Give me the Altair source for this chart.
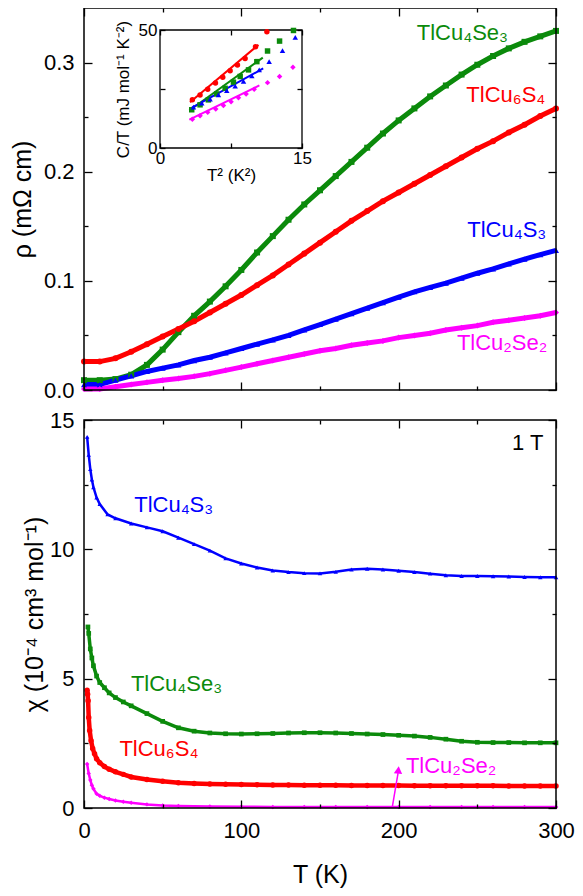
import altair as alt
import pandas as pd

# ---------------- shared series info ----------------
SERIES = ["TlCu4Se3", "TlCu6S4", "TlCu4S3", "TlCu2Se2"]
COLORS = ["#0b8a0b", "#ff0000", "#0000ff", "#ff00ff"]
SHAPES = ["square", "circle", "triangle-up", "diamond"]

# ---------------- top panel: resistivity (mOhm cm) ----------------
T_RHO = [0, 10, 20, 30, 40, 50, 60, 70, 80, 90, 100, 110, 120, 130, 140, 150,
         160, 170, 180, 190, 200, 210, 220, 230, 240, 250, 260, 270, 280, 290, 300]
RHO_TLCU4SE3 = [0.009, 0.009, 0.010, 0.014, 0.023, 0.037, 0.053, 0.068, 0.081, 0.095,
                0.110, 0.126, 0.141, 0.156, 0.170, 0.183, 0.196, 0.209, 0.222, 0.235,
                0.247, 0.258, 0.269, 0.279, 0.289, 0.298, 0.306, 0.313, 0.319, 0.324, 0.329]
RHO_TLCU6S4 = [0.026, 0.026, 0.029, 0.035, 0.042, 0.049, 0.056, 0.063, 0.071, 0.079,
               0.087, 0.096, 0.105, 0.115, 0.125, 0.135, 0.145, 0.155, 0.164, 0.173,
               0.181, 0.189, 0.197, 0.205, 0.213, 0.221, 0.228, 0.236, 0.243, 0.251, 0.258]
RHO_TLCU4S3 = [0.005, 0.005, 0.009, 0.013, 0.017, 0.020, 0.023, 0.027, 0.030, 0.034,
               0.038, 0.042, 0.046, 0.050, 0.055, 0.060, 0.065, 0.070, 0.075, 0.080,
               0.085, 0.090, 0.094, 0.098, 0.1025, 0.107, 0.111, 0.1155, 0.120, 0.124, 0.128]
RHO_TLCU2SE2 = [0.001, 0.001, 0.003, 0.005, 0.007, 0.009, 0.0105, 0.0125, 0.015, 0.018,
                0.021, 0.024, 0.027, 0.030, 0.033, 0.036, 0.038, 0.041, 0.043, 0.045,
                0.048, 0.050, 0.052, 0.055, 0.057, 0.059, 0.062, 0.064, 0.066, 0.068, 0.071]

# ---------------- inset: C/T vs T^2 ----------------
T2_TLCU4SE3 = [3.35, 4.23, 5.11, 6.0, 6.88, 7.76, 8.47, 9.35, 10.23, 11.36, 12.63, 14.1]
CT_TLCU4SE3 = [16.2, 18.3, 20.4, 22.9, 25.3, 27.9, 30.3, 33.1, 36.6, 41.1, 45.3, 49.8]
T2_TLCU6S4 = [3.42, 4.23, 5.04, 5.86, 6.63, 7.41, 8.18, 8.99, 10.09, 11.29]
CT_TLCU6S4 = [20.4, 22.5, 24.9, 27.5, 30.0, 32.7, 35.2, 37.9, 42.95, 49.3]
T2_TLCU4S3 = [3.53, 4.41, 5.29, 6.17, 7.05, 7.94, 8.82, 9.70, 10.48, 11.53, 12.94, 14.29]
CT_TLCU4S3 = [17.3, 19.0, 20.7, 22.5, 24.3, 26.2, 28.2, 30.6, 33.1, 36.6, 41.3, 46.9]
T2_TLCU2SE2 = [3.42, 4.23, 5.04, 5.89, 6.70, 7.51, 8.29, 9.10, 9.95, 11.36, 12.63, 14.04]
CT_TLCU2SE2 = [12.2, 13.65, 15.1, 16.5, 18.0, 19.6, 21.3, 22.9, 24.9, 27.7, 30.3, 34.2]
# linear fits: [start, end]
FIT_T2 = {"TlCu4Se3": [3.10, 10.86], "TlCu6S4": [3.17, 10.4],
          "TlCu4S3": [3.10, 10.9], "TlCu2Se2": [3.10, 10.5]}
FIT_CT = {"TlCu4Se3": [15.9, 38.3], "TlCu6S4": [19.4, 43.7],
          "TlCu4S3": [16.5, 33.7], "TlCu2Se2": [12.0, 26.5]}

# ---------------- bottom panel: susceptibility (1e-4 cm3/mol) ----------------
T_CHI_TLCU4S3 = [2, 3, 4, 5, 6, 8, 10, 15, 20, 30, 40, 50, 60, 70, 80, 90, 100, 110,
                 120, 130, 140, 150, 160, 170, 180, 190, 200, 210, 220, 230, 240, 250,
                 260, 270, 280, 290, 300]
CHI_TLCU4S3 = [14.35, 13.65, 13.1, 12.7, 12.4, 12.0, 11.75, 11.35, 11.2, 11.0, 10.85,
               10.7, 10.45, 10.2, 9.95, 9.65, 9.45, 9.3, 9.18, 9.12, 9.08, 9.07, 9.13,
               9.22, 9.25, 9.22, 9.17, 9.12, 9.06, 9.0, 8.97, 8.97, 8.96, 8.95, 8.93,
               8.92, 8.92]
T_CHI_TLCU4SE3 = [2.5, 3, 4, 5, 6, 8, 10, 13, 16, 20, 25, 30, 40, 50, 60, 70, 80, 90,
                  100, 110, 120, 130, 140, 150, 160, 170, 180, 190, 200, 210, 220, 230,
                  240, 250, 260, 270, 280, 290, 300]
CHI_TLCU4SE3 = [7.0, 6.75, 6.15, 5.8, 5.5, 5.1, 4.85, 4.65, 4.45, 4.27, 4.1, 3.95, 3.65,
                3.35, 3.1, 2.97, 2.9, 2.87, 2.86, 2.87, 2.88, 2.9, 2.91, 2.91, 2.9, 2.88,
                2.86, 2.84, 2.81, 2.78, 2.73, 2.66, 2.58, 2.54, 2.53, 2.53, 2.52, 2.52, 2.52]
T_CHI_TLCU6S4 = [2, 2.3, 2.6, 3, 3.6, 4.5, 5.5, 6.7, 8, 10, 13, 16, 20, 25, 30, 40, 50,
                 60, 70, 80, 90, 100, 110, 120, 130, 140, 150, 160, 170, 180, 190, 200,
                 210, 220, 230, 240, 250, 260, 270, 280, 290, 300]
CHI_TLCU6S4 = [4.55, 4.4, 4.15, 3.5, 3.0, 2.6, 2.3, 2.1, 1.9, 1.75, 1.6, 1.5, 1.4, 1.3,
               1.2, 1.1, 1.03, 0.98, 0.95, 0.93, 0.92, 0.91, 0.9, 0.89, 0.89, 0.88, 0.88,
               0.88, 0.87, 0.87, 0.87, 0.87, 0.86, 0.86, 0.86, 0.86, 0.86, 0.86, 0.85,
               0.85, 0.85, 0.85]
T_CHI_TLCU2SE2 = [2, 3, 4, 5, 6, 8, 10, 13, 16, 20, 25, 30, 40, 50, 60, 80, 100, 120,
                  140, 160, 180, 200, 220, 240, 260, 280, 300]
CHI_TLCU2SE2 = [1.7, 1.33, 1.08, 0.88, 0.74, 0.55, 0.47, 0.4, 0.35, 0.29, 0.24, 0.2,
                0.14, 0.1, 0.08, 0.06, 0.05, 0.04, 0.04, 0.04, 0.04, 0.04, 0.04, 0.04,
                0.04, 0.04, 0.04]

# ---------------- axis domains / ticks ----------------
X_DOM = [0, 300]
Y_TOP = [0, 0.35]
Y_BOT = [0, 15]
INSET_X_DOMAIN = [0, 15]
INSET_Y_DOMAIN = [0, 50]
X_MAJOR, X_MINOR = [0, 100, 200, 300], [50, 150, 250]
YT_MAJOR, YT_MINOR = [0, 0.1, 0.2, 0.3], [0.05, 0.15, 0.25]
YB_MAJOR, YB_MINOR = [0, 5, 10, 15], [2.5, 7.5, 12.5]

# ---------------- annotations ----------------
TOP_LABEL_TEXT = ["TlCu₄Se₃", "TlCu₆S₄", "TlCu₄S₃", "TlCu₂Se₂"]
TOP_LABEL_T = [211.5, 243, 243.6, 237]
TOP_LABEL_V = [0.327, 0.270, 0.147, 0.043]
BOT_LABEL_TEXT = ["TlCu₄S₃", "TlCu₄Se₃", "TlCu₆S₄", "TlCu₂Se₂", "1 T"]
BOT_LABEL_T = [31.9, 29.8, 22.5, 204.6, 272]
BOT_LABEL_V = [11.71, 4.79, 2.29, 1.62, 14.1]
BOT_LABEL_COLOR = ["#0000ff", "#0b8a0b", "#ff0000", "#ff00ff", "black"]
ARROW_T = [196, 199.6]
ARROW_V = [0.05, 1.35]
ARROW_HEAD = [199.8, 1.47]

# ---------------- layout (pixels inside the single plot area) ----------------
FONT = "Liberation Sans"
W, H = 472, 800
TOP_RANGE = [382, 0]          # top panel occupies y 0..382
BOT_RANGE = [800, 412]        # bottom panel occupies y 412..800
IX = [76, 218]                # inset box
IY = [140, 22]
MAJ, MIN = 8, 4
LINE_W_TOP = [5, 5, 5, 5]
LINE_W_BOT = [3.5, 4.5, 2.5, 2.5]
PT_SIZE_BOT = [22, 30, 20, 20]


def long_df(xs, ys):
    rows = []
    for s in SERIES:
        for x, y in zip(xs[s], ys[s]):
            rows.append({"series": s, "x": x, "y": y})
    return pd.DataFrame(rows)


rho_df = long_df({s: T_RHO for s in SERIES},
                 dict(zip(SERIES, [RHO_TLCU4SE3, RHO_TLCU6S4, RHO_TLCU4S3, RHO_TLCU2SE2])))
ct_df = long_df(dict(zip(SERIES, [T2_TLCU4SE3, T2_TLCU6S4, T2_TLCU4S3, T2_TLCU2SE2])),
                dict(zip(SERIES, [CT_TLCU4SE3, CT_TLCU6S4, CT_TLCU4S3, CT_TLCU2SE2])))
fit_df = long_df(FIT_T2, FIT_CT)
chi_df = long_df(dict(zip(SERIES, [T_CHI_TLCU4SE3, T_CHI_TLCU6S4, T_CHI_TLCU4S3, T_CHI_TLCU2SE2])),
                 dict(zip(SERIES, [CHI_TLCU4SE3, CHI_TLCU6S4, CHI_TLCU4S3, CHI_TLCU2SE2])))
top_lab_df = pd.DataFrame({"x": TOP_LABEL_T, "y": TOP_LABEL_V, "text": TOP_LABEL_TEXT,
                           "color": COLORS})
bot_lab_df = pd.DataFrame({"x": BOT_LABEL_T, "y": BOT_LABEL_V, "text": BOT_LABEL_TEXT,
                           "color": BOT_LABEL_COLOR})
arrow_df = pd.DataFrame({"x": [ARROW_T[0]], "x2": [ARROW_T[1]],
                         "y": [ARROW_V[0]], "y2": [ARROW_V[1]]})
head_df = pd.DataFrame({"x": [ARROW_HEAD[0]], "y": [ARROW_HEAD[1]]})


def box_df(xd, yd):
    return pd.DataFrame({"x": [xd[0]], "x2": [xd[1]], "y": [yd[0]], "y2": [yd[1]]})


COLOR = alt.Color("series:N", scale=alt.Scale(domain=SERIES, range=COLORS), legend=None)
SHAPE = alt.Shape("series:N", scale=alt.Scale(domain=SERIES, range=SHAPES), legend=None)


def sc(domain, rng=None):
    if rng is None:
        return alt.Scale(domain=domain, nice=False, zero=False)
    return alt.Scale(domain=domain, range=rng, nice=False, zero=False)


def tick_axis(orient, values, length, offset, **extra):
    opts = dict(orient=orient, values=values, tickSize=length, offset=offset,
                domain=False, grid=False, ticks=True, tickColor="black",
                tickWidth=1.3, labels=False, title=None, labelFlush=False,
                labelOverlap=False, zindex=1)
    opts.update(extra)
    return alt.Axis(**opts)


LAB = dict(labels=True, labelFont=FONT, labelFontSize=22, labelColor="black",
           labelPadding=10)
TIT = dict(titleFont=FONT, titleFontSize=25, titleFontWeight="normal",
           titleColor="black")


def axis_layer(df, xscale, yscale, xaxis, yaxis):
    return alt.Chart(df).mark_point(opacity=0).encode(
        x=alt.X("x:Q", scale=xscale, axis=xaxis),
        y=alt.Y("y:Q", scale=yscale, axis=yaxis))


# ---------------- top panel ----------------
ty = TOP_RANGE
top_bottom_edge = ty[0]
top_layers = [
    axis_layer(rho_df, sc(X_DOM), sc(Y_TOP, ty),
               tick_axis("bottom", X_MAJOR, MAJ, top_bottom_edge - MAJ - H),
               tick_axis("left", YT_MAJOR, MAJ, -MAJ, format=".1f", title="ρ (mΩ cm)",
                         titlePadding=8, **LAB, **TIT)),
    axis_layer(rho_df, sc(X_DOM), sc(Y_TOP, ty),
               tick_axis("bottom", X_MINOR, MIN, top_bottom_edge - MIN - H),
               tick_axis("left", YT_MINOR, MIN, -MIN)),
    axis_layer(rho_df, sc(X_DOM), sc(Y_TOP, ty),
               tick_axis("top", X_MAJOR, MAJ, -(ty[1] + MAJ)),
               tick_axis("right", YT_MAJOR, MAJ, -MAJ)),
    axis_layer(rho_df, sc(X_DOM), sc(Y_TOP, ty),
               tick_axis("top", X_MINOR, MIN, -(ty[1] + MIN)),
               tick_axis("right", YT_MINOR, MIN, -MIN)),
]
top_line = alt.Chart(rho_df).mark_line().encode(
    x=alt.X("x:Q", scale=sc(X_DOM), axis=None),
    y=alt.Y("y:Q", scale=sc(Y_TOP, ty), axis=None),
    color=COLOR, detail="series:N",
    strokeWidth=alt.StrokeWidth("series:N", scale=alt.Scale(type="ordinal", domain=SERIES,
                                                             range=LINE_W_TOP),
                                legend=None))
top_pts = alt.Chart(rho_df).mark_point(filled=True, size=36, opacity=1).encode(
    x=alt.X("x:Q", scale=sc(X_DOM), axis=None),
    y=alt.Y("y:Q", scale=sc(Y_TOP, ty), axis=None),
    color=COLOR, shape=SHAPE)
top_text = alt.Chart(top_lab_df).mark_text(align="left", baseline="middle", font=FONT,
                                           fontSize=22).encode(
    x=alt.X("x:Q", scale=sc(X_DOM), axis=None),
    y=alt.Y("y:Q", scale=sc(Y_TOP, ty), axis=None),
    text="text:N", color=alt.Color("color:N", scale=None))
top_frame = alt.Chart(box_df(X_DOM, Y_TOP)).mark_rect(
    fillOpacity=0, stroke="black", strokeWidth=1.5).encode(
    x=alt.X("x:Q", scale=sc(X_DOM), axis=None), x2="x2:Q",
    y=alt.Y("y:Q", scale=sc(Y_TOP, ty), axis=None), y2="y2:Q")

# ---------------- inset ----------------
ilab = dict(labels=True, labelFont=FONT, labelFontSize=17, labelColor="black")
itit = dict(titleFont=FONT, titleFontSize=17, titleFontWeight="normal", titleColor="black")
inset_frame = alt.Chart(box_df(INSET_X_DOMAIN, INSET_Y_DOMAIN)).mark_rect(
    fill="white", stroke="black", strokeWidth=1.3).encode(
    x=alt.X("x:Q", scale=sc(INSET_X_DOMAIN, IX), axis=None), x2="x2:Q",
    y=alt.Y("y:Q", scale=sc(INSET_Y_DOMAIN, IY), axis=None), y2="y2:Q")
inset_pts = alt.Chart(ct_df).mark_point(filled=True, size=30, opacity=1).encode(
    x=alt.X("x:Q", scale=sc(INSET_X_DOMAIN, IX),
            axis=tick_axis("bottom", [0, 7.5, 15], 5, (IY[0] - 5) - H,
                           labelExpr="datum.value == 7.5 ? '' : datum.label",
                           labelPadding=2, title="T² (K²)", titlePadding=1,
                           **ilab, **itit)),
    y=alt.Y("y:Q", scale=sc(INSET_Y_DOMAIN, IY),
            axis=tick_axis("left", [0, 25, 50], 5, -(IX[0] + 5),
                           labelExpr="datum.value == 25 ? '' : datum.label",
                           labelPadding=3, title="C/T (mJ mol⁻¹ K⁻²)", titlePadding=6,
                           **ilab, **itit)),
    color=COLOR, shape=SHAPE)
inset_fit = alt.Chart(fit_df).mark_line(strokeWidth=2).encode(
    x=alt.X("x:Q", scale=sc(INSET_X_DOMAIN, IX),
            axis=tick_axis("top", [0, 7.5, 15], 5, -(IY[1] + 5))),
    y=alt.Y("y:Q", scale=sc(INSET_Y_DOMAIN, IY),
            axis=tick_axis("right", [0, 25, 50], 5, (IX[1] - 5) - W)),
    color=COLOR, detail="series:N")

# ---------------- bottom panel ----------------
by = BOT_RANGE
bot_layers = [
    axis_layer(chi_df, sc(X_DOM), sc(Y_BOT, by),
               tick_axis("bottom", X_MAJOR, MAJ, -MAJ, title="T (K)", titlePadding=21,
                         **dict(LAB, labelPadding=12), **TIT),
               tick_axis("left", YB_MAJOR, MAJ, -MAJ, title="χ (10⁻⁴ cm³ mol⁻¹)",
                         titlePadding=2, **LAB, **TIT)),
    axis_layer(chi_df, sc(X_DOM), sc(Y_BOT, by),
               tick_axis("bottom", X_MINOR, MIN, -MIN),
               tick_axis("left", YB_MINOR, MIN, -MIN)),
    axis_layer(chi_df, sc(X_DOM), sc(Y_BOT, by),
               tick_axis("top", X_MAJOR, MAJ, -(by[1] + MAJ)),
               tick_axis("right", YB_MAJOR, MAJ, -MAJ)),
    axis_layer(chi_df, sc(X_DOM), sc(Y_BOT, by),
               tick_axis("top", X_MINOR, MIN, -(by[1] + MIN)),
               tick_axis("right", YB_MINOR, MIN, -MIN)),
]
bot_line = alt.Chart(chi_df).mark_line().encode(
    x=alt.X("x:Q", scale=sc(X_DOM), axis=None),
    y=alt.Y("y:Q", scale=sc(Y_BOT, by), axis=None),
    color=COLOR, detail="series:N",
    strokeWidth=alt.StrokeWidth("series:N", scale=alt.Scale(type="ordinal", domain=SERIES,
                                                             range=LINE_W_BOT),
                                legend=None))
bot_pts = alt.Chart(chi_df).mark_point(filled=True, opacity=1).encode(
    x=alt.X("x:Q", scale=sc(X_DOM), axis=None),
    y=alt.Y("y:Q", scale=sc(Y_BOT, by), axis=None),
    color=COLOR, shape=SHAPE,
    size=alt.Size("series:N", scale=alt.Scale(type="ordinal", domain=SERIES,
                                              range=PT_SIZE_BOT),
                  legend=None))
bot_text = alt.Chart(bot_lab_df).mark_text(align="left", baseline="middle", font=FONT,
                                           fontSize=22).encode(
    x=alt.X("x:Q", scale=sc(X_DOM), axis=None),
    y=alt.Y("y:Q", scale=sc(Y_BOT, by), axis=None),
    text="text:N", color=alt.Color("color:N", scale=None))
arrow = alt.Chart(arrow_df).mark_rule(color="#ff00ff", strokeWidth=1.5).encode(
    x=alt.X("x:Q", scale=sc(X_DOM), axis=None), x2="x2:Q",
    y=alt.Y("y:Q", scale=sc(Y_BOT, by), axis=None), y2="y2:Q")
head = alt.Chart(head_df).mark_point(shape="triangle-up", filled=True, size=70,
                                     color="#ff00ff", opacity=1, angle=6).encode(
    x=alt.X("x:Q", scale=sc(X_DOM), axis=None),
    y=alt.Y("y:Q", scale=sc(Y_BOT, by), axis=None))
bot_frame = alt.Chart(box_df(X_DOM, Y_BOT)).mark_rect(
    fillOpacity=0, stroke="black", strokeWidth=1.5).encode(
    x=alt.X("x:Q", scale=sc(X_DOM), axis=None), x2="x2:Q",
    y=alt.Y("y:Q", scale=sc(Y_BOT, by), axis=None), y2="y2:Q")

chart = alt.layer(
    *top_layers, top_line, top_pts, top_text, inset_frame, inset_fit, inset_pts,
    top_frame,
    *bot_layers, bot_line, bot_pts, bot_text, arrow, head, bot_frame,
).resolve_scale(x="independent", y="independent", strokeWidth="independent",
                size="independent").resolve_axis(
    x="independent", y="independent").properties(
    width=W, height=H,
    autosize=alt.AutoSizeParams(type="none"),
    padding={"left": 76, "top": 0, "right": 19, "bottom": 80},
    background="white").configure_view(strokeWidth=0)

chart.save("out.html", embed_options={"renderer": "svg", "actions": False})
